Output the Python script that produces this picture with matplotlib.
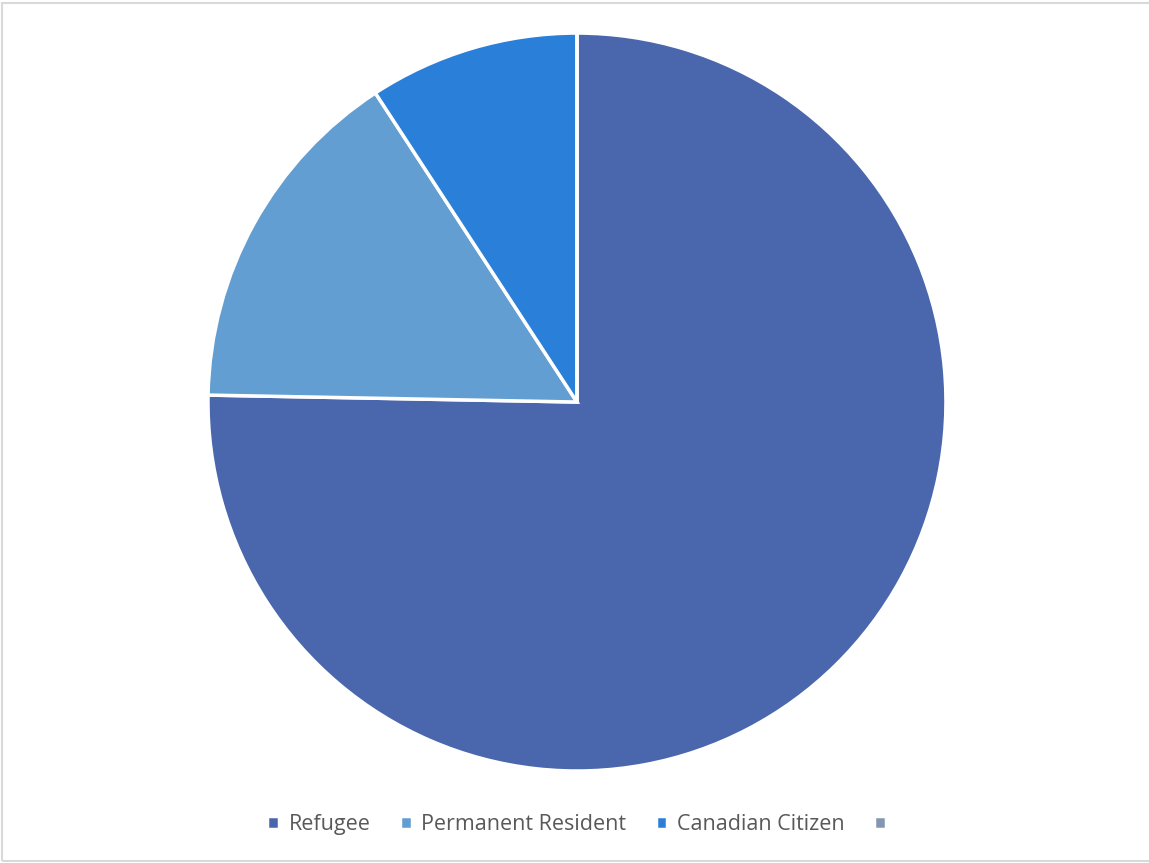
import matplotlib.pyplot as plt
from matplotlib.patches import Rectangle

# Status breakdown (share of respondents, %)
labels = ["Refugee", "Permanent Resident", "Canadian Citizen", ""]
values = [75.3, 15.5, 9.2, 0.0]
colors = ["#4A67AD", "#629ED1", "#2A7FD8", "#8497B0"]

plt.rcParams['font.family'] = ['Open Sans', 'DejaVu Sans']

fig = plt.figure(figsize=(11.49, 8.63), dpi=100)
ax = fig.add_axes([0.181, 0.1066, 0.6423, 0.8551])

wedges, _ = ax.pie(values, colors=colors, startangle=90, counterclock=False,
                   radius=1, wedgeprops=dict(edgecolor="white", linewidth=2.5))
ax.set_xlim(-1.0, 1.0)
ax.set_ylim(-1.0, 1.0)
ax.set_aspect("equal")

fig.legend(wedges, labels, loc="center", bbox_to_anchor=(0.506, 0.045), ncol=4,
           frameon=False, fontsize=15.5, labelcolor="#595959",
           handlelength=0.55, handleheight=0.55, handletextpad=0.45, columnspacing=1.35)

# light grey outline around the chart area (right edge runs off the image)
fig.patches.append(Rectangle((0.002, 0.002), 1.1, 0.995, transform=fig.transFigure,
                             fill=False, edgecolor="#d9d9d9", linewidth=1.5))

fig.savefig("out.png", dpi=100)
